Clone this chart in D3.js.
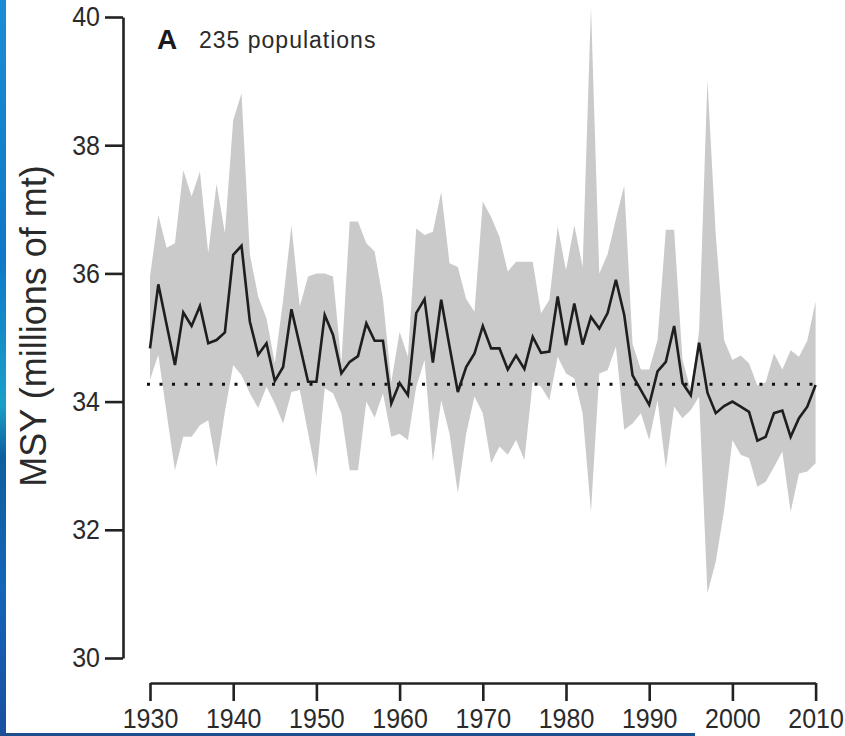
<!DOCTYPE html>
<html>
<head>
<meta charset="utf-8">
<script src="https://cdn.jsdelivr.net/npm/d3@7"></script>
<style>
  html, body { margin: 0; padding: 0; background: #fff; }
  svg { display: block; }
  text { font-family: "Liberation Sans", Arial, sans-serif; }
</style>
</head>
<body>
<svg id="chart" width="845" height="736"></svg>
<script>
// Annual MSY estimate (millions of mt) with its uncertainty band, 1930–2010
const years = d3.range(1930, 2011);

const msy = [
  34.83, 35.83, 35.20, 34.57, 35.39, 35.18, 35.49, 34.91, 34.96, 35.08,
  36.29, 36.43, 35.25, 34.73, 34.91, 34.32, 34.54, 35.44, 34.88, 34.31,
  34.31, 35.35, 35.04, 34.44, 34.62, 34.71, 35.22, 34.95, 34.95, 33.97,
  34.29, 34.10, 35.38, 35.60, 34.61, 35.59, 34.86, 34.15, 34.54, 34.75,
  35.18, 34.83, 34.83, 34.50, 34.72, 34.51, 35.01, 34.76, 34.78, 35.64,
  34.88, 35.53, 34.89, 35.32, 35.14, 35.38, 35.90, 35.35, 34.41, 34.18,
  33.95, 34.47, 34.62, 35.18, 34.29, 34.10, 34.92, 34.14, 33.82, 33.93,
  34.00, 33.92, 33.84, 33.39, 33.45, 33.82, 33.86, 33.45, 33.74, 33.92,
  34.26
];

const upper = [
  35.95, 36.91, 36.40, 36.47, 37.61, 37.20, 37.59, 36.32, 37.40, 36.63,
  38.39, 38.81, 36.30, 35.64, 35.30, 34.60, 35.58, 36.75, 35.48, 35.95,
  36.00, 36.00, 35.95, 34.60, 36.81, 36.81, 36.47, 36.34, 35.60, 34.30,
  35.09, 34.70, 36.70, 36.60, 36.65, 37.27, 36.16, 36.10, 35.60, 35.40,
  37.12, 36.88, 36.57, 36.03, 36.18, 36.18, 36.18, 35.38, 35.59, 36.73,
  36.05, 36.75, 36.10, 40.16, 36.00, 36.30, 36.85, 37.37, 34.90, 34.50,
  34.50, 34.96, 36.68, 36.68, 34.65, 34.18, 35.10, 39.02, 36.60, 34.96,
  34.65, 34.72, 34.60, 34.25, 34.30, 34.75, 34.50, 34.80, 34.70, 34.95,
  35.56
];

const lower = [
  34.34, 34.73, 33.82, 32.93, 33.45, 33.45, 33.63, 33.71, 32.98, 33.84,
  34.57, 34.41, 34.13, 33.90, 34.23, 33.97, 33.66, 34.15, 34.18, 33.51,
  32.83, 34.21, 34.13, 33.82, 32.93, 32.93, 34.00, 33.75, 34.13, 33.45,
  33.50, 33.40, 34.23, 34.65, 33.06, 34.02, 33.50, 32.57, 33.50, 34.08,
  33.82, 33.04, 33.30, 33.17, 33.40, 33.09, 34.31, 34.23, 34.02, 34.70,
  34.44, 34.36, 33.82, 32.28, 34.44, 34.49, 34.86, 33.56, 33.66, 33.82,
  33.40, 34.02, 32.96, 33.92, 33.74, 33.87, 34.08, 31.01, 31.50, 32.30,
  33.40, 33.17, 33.12, 32.67, 32.75, 32.98, 33.22, 32.28, 32.88, 32.91,
  33.04
];

const referenceLevel = 34.27;

const yTicks = [30, 32, 34, 36, 38, 40];
const xTicks = [1930, 1940, 1950, 1960, 1970, 1980, 1990, 2000, 2010];

const panelLetter = "A";
const panelLabel = "235 populations";
const yTitle = "MSY (millions of mt)";

const svg = d3.select("#chart");

// frame accents along the left and bottom edges
const grad = svg.append("defs").append("linearGradient")
  .attr("id", "edge").attr("x1", 0).attr("y1", 0).attr("x2", 0).attr("y2", 1);
[["0%", "#1a8cd6"], ["35%", "#0f78c8"], ["55%", "#1aa0c8"], ["62%", "#0e5f9e"],
 ["80%", "#1565b8"], ["100%", "#1a4fa0"]]
  .forEach(([o, c]) => grad.append("stop").attr("offset", o).attr("stop-color", c));
svg.append("rect").attr("x", 0).attr("y", 0).attr("width", 6).attr("height", 736)
  .attr("fill", "url(#edge)");
svg.append("rect").attr("x", 0).attr("y", 733).attr("width", 695).attr("height", 3)
  .attr("fill", "#1d4f8f");

const x = d3.scaleLinear().domain([1930, 2010]).range([150, 815.6]);
const y = d3.scaleLinear().domain([30, 40]).range([658, 17]);

// uncertainty band
const band = years.map((yr, i) => ({ yr, lo: lower[i], hi: upper[i] }));
svg.append("path")
  .datum(band)
  .attr("fill", "#cacaca")
  .attr("d", d3.area().x(d => x(d.yr)).y0(d => y(d.lo)).y1(d => y(d.hi)));

// reference level
svg.append("line")
  .attr("x1", x(1930) - 3).attr("x2", x(2010))
  .attr("y1", y(referenceLevel)).attr("y2", y(referenceLevel))
  .attr("stroke", "#111").attr("stroke-width", 3)
  .attr("stroke-dasharray", "3 9.5");

// central estimate
svg.append("path")
  .datum(years.map((yr, i) => ({ yr, v: msy[i] })))
  .attr("fill", "none")
  .attr("stroke", "#1e1e1e")
  .attr("stroke-width", 2.6)
  .attr("stroke-linejoin", "miter")
  .attr("d", d3.line().x(d => x(d.yr)).y(d => y(d.v)));

// axes
const yAxis = svg.append("g")
  .attr("transform", "translate(123,0)")
  .call(d3.axisLeft(y).tickValues(yTicks).tickSize(18).tickSizeOuter(0).tickPadding(5)
    .tickFormat(d3.format("d")));
const xAxis = svg.append("g")
  .attr("transform", "translate(0,683)")
  .call(d3.axisBottom(x).tickValues(xTicks).tickSize(18).tickSizeOuter(0).tickPadding(4)
    .tickFormat(d3.format("d")));

[yAxis, xAxis].forEach(g => {
  g.select(".domain").attr("stroke", "#222").attr("stroke-width", 2.6);
  g.selectAll(".tick line").attr("stroke", "#222").attr("stroke-width", 2.6);
  g.selectAll(".tick text")
    .attr("fill", "#2a2a2a")
    .attr("transform", "scale(1,1.12)")
    .style("font-family", "'Liberation Sans', Arial, sans-serif")
    .style("font-size", "25px");
});

// axis title
svg.append("text")
  .attr("transform", "translate(46,326) rotate(-90)")
  .attr("text-anchor", "middle")
  .attr("fill", "#2a2a2a")
  .style("font-size", "36px")
  .text(yTitle);

// panel label
svg.append("text")
  .attr("x", 157).attr("y", 49)
  .attr("fill", "#1a1a1a")
  .style("font-size", "28px").style("font-weight", "bold")
  .text(panelLetter);
svg.append("text")
  .attr("x", 199).attr("y", 48)
  .attr("fill", "#2a2a2a")
  .style("font-size", "23px")
  .style("letter-spacing", "1px")
  .text(panelLabel);
</script>
</body>
</html>
